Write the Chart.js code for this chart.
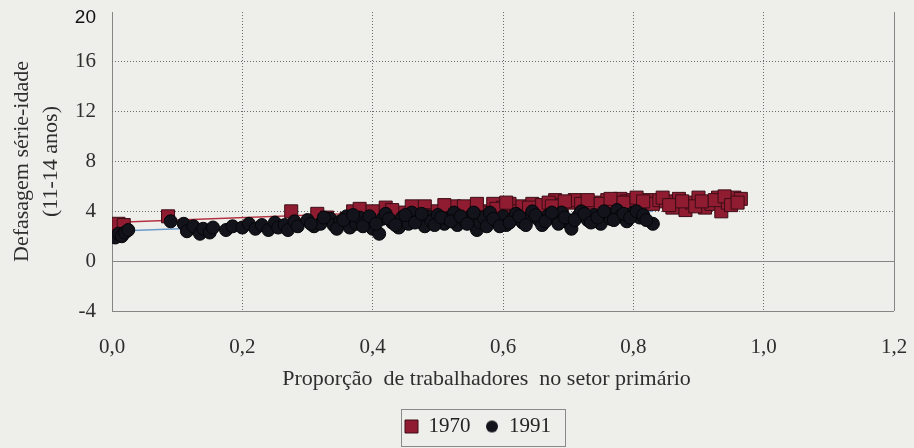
<!DOCTYPE html>
<html>
<head>
<meta charset="utf-8">
<script src="https://cdn.jsdelivr.net/npm/chart.js@4.4.1/dist/chart.umd.min.js"></script>
<style>
  html, body { margin: 0; padding: 0; background: #eeeeeb; }
  canvas { display: block; }
</style>
</head>
<body>
<canvas id="chart" width="914" height="448"></canvas>
<script>
// Proporção de trabalhadores no setor primário (x) vs defasagem série-idade (y)
const x1970 = [0.010, 0.018, 0.086, 0.275, 0.315, 0.330, 0.360, 0.370, 0.390, 0.410,
               0.420, 0.440, 0.450, 0.470, 0.480, 0.490, 0.500, 0.520, 0.525, 0.530,
               0.550, 0.565, 0.570, 0.585, 0.600, 0.610, 0.620, 0.630, 0.645, 0.650,
               0.660, 0.680, 0.690, 0.700, 0.710, 0.720, 0.740, 0.760, 0.770, 0.780,
               0.790, 0.800, 0.810, 0.820, 0.830, 0.840, 0.850, 0.860, 0.870, 0.880,
               0.890, 0.900, 0.910, 0.920, 0.930, 0.935, 0.945, 0.955, 0.965,
               0.380, 0.400, 0.430, 0.460, 0.510, 0.540, 0.560, 0.590, 0.605, 0.640,
               0.670, 0.675, 0.695, 0.730, 0.750, 0.765, 0.785, 0.805, 0.815, 0.845,
               0.855, 0.875, 0.895, 0.905, 0.925, 0.940, 0.950, 0.960];
const y1970 = [3.0, 2.9, 3.6, 4.0, 3.8, 3.5, 3.4, 4.0, 3.7, 3.6,
               4.3, 3.9, 3.5, 4.2, 4.4, 3.7, 4.0, 4.1, 4.4, 3.8,
               4.2, 4.0, 3.9, 4.6, 4.3, 4.6, 4.0, 4.4, 4.6, 4.1,
               4.5, 4.9, 4.5, 4.7, 4.9, 4.6, 4.7, 4.9, 4.6, 5.0,
               4.8, 4.9, 4.5, 4.9, 4.6, 4.9, 4.8, 4.3, 5.0, 4.1,
               4.7, 5.1, 4.3, 4.6, 5.1, 4.0, 4.7, 5.1, 5.0,
               4.2, 4.0, 4.1, 4.4, 4.5, 4.4, 4.6, 4.2, 4.7, 4.3,
               4.7, 4.4, 4.8, 4.9, 4.6, 5.0, 4.7, 5.1, 4.8, 5.1,
               4.5, 4.8, 4.4, 4.8, 4.9, 5.2, 4.5, 4.7];

const x1991 = [0.005, 0.010, 0.015, 0.020, 0.025, 0.090, 0.110, 0.115, 0.125, 0.135,
               0.140, 0.150, 0.155, 0.175, 0.185, 0.200, 0.210, 0.220, 0.230, 0.240,
               0.250, 0.255, 0.265, 0.270, 0.280, 0.285, 0.300, 0.310, 0.320, 0.335,
               0.340, 0.350, 0.360, 0.365, 0.375, 0.380, 0.390, 0.400, 0.410, 0.415,
               0.420, 0.430, 0.440, 0.445, 0.455, 0.460, 0.470, 0.480, 0.485, 0.490,
               0.500, 0.510, 0.515, 0.525, 0.530, 0.540, 0.550, 0.560, 0.565, 0.570,
               0.575, 0.580, 0.590, 0.600, 0.605, 0.615, 0.620, 0.630, 0.640, 0.645,
               0.655, 0.660, 0.670, 0.680, 0.690, 0.700, 0.705, 0.715, 0.720, 0.730,
               0.740, 0.750, 0.760, 0.765, 0.775, 0.780, 0.790, 0.800, 0.810, 0.830,
               0.305, 0.325, 0.345, 0.355, 0.370, 0.385, 0.395, 0.405, 0.425, 0.435,
               0.450, 0.465, 0.475, 0.495, 0.505, 0.520, 0.535, 0.545, 0.555, 0.585,
               0.595, 0.610, 0.625, 0.635, 0.650, 0.665, 0.675, 0.685, 0.695, 0.710,
               0.725, 0.735, 0.745, 0.755, 0.770, 0.785, 0.795, 0.805, 0.815, 0.820];
const y1991 = [1.9, 2.2, 2.0, 2.3, 2.5, 3.2, 3.0, 2.4, 2.8, 2.2,
               2.6, 2.3, 2.7, 2.5, 2.8, 2.7, 3.0, 2.6, 2.9, 2.5,
               3.1, 2.7, 2.9, 2.5, 3.2, 2.8, 3.3, 2.8, 3.0, 3.4,
               2.9, 3.2, 3.6, 2.7, 3.0, 3.5, 3.2, 2.6, 2.2, 3.4,
               3.8, 3.1, 2.7, 3.5, 3.0, 3.9, 3.3, 2.8, 3.6, 3.2,
               3.7, 3.0, 3.4, 3.9, 2.9, 3.3, 3.6, 2.5, 3.1, 3.5,
               2.8, 3.9, 3.2, 3.6, 2.9, 3.4, 3.8, 3.1, 3.5, 4.0,
               3.3, 2.9, 3.7, 3.4, 3.9, 3.1, 2.6, 3.6, 4.0, 3.3,
               3.7, 3.0, 3.8, 3.4, 4.1, 3.6, 3.2, 3.9, 3.5, 3.0,
               3.0, 3.5, 2.6, 3.3, 3.7, 2.8, 3.6, 3.0, 3.4, 2.9,
               3.7, 3.1, 3.8, 2.9, 3.5, 3.2, 3.6, 3.0, 3.9, 3.4,
               2.8, 3.1, 3.6, 2.9, 3.7, 3.2, 3.9, 3.0, 3.5, 3.3,
               3.8, 3.1, 3.5, 4.0, 3.3, 3.8, 3.5, 4.0, 3.7, 3.3];

// Linear fit lines, one per year (end points)
const fit1970X = [0.0, 0.965];
const fit1970Y = [3.1, 5.0];
const fit1991X = [0.0, 0.83];
const fit1991Y = [2.4, 4.0];

const seriesLabels = ['1970', '1991'];
const xTickLabels = ['0,0', '0,2', '0,4', '0,6', '0,8', '1,0', '1,2'];
const yTickLabels = ['-4', '0', '4', '8', '12', '16', '20'];
// trailing spaces nudge the centred title slightly left
const xAxisTitle = 'Proporção  de trabalhadores  no setor primário      ';
const yAxisTitle = ['Defasagem série-idade', '(11-14 anos)'];

const pts = (xs, ys) => xs.map((x, i) => ({ x: x, y: ys[i] }));

const SERIF = '"Liberation Serif", "Times New Roman", serif';
const TEXT = '#2e2e2e';
const DOT = '#6c6c6c';
const FRAME = '#858585';
const RED = '#8f1c30';
const BLACK = '#13131c';

// small round marker for the 1991 legend entry
const legendDot = (() => {
  const cv = document.createElement('canvas');
  cv.width = 14; cv.height = 14;
  const g = cv.getContext('2d');
  g.fillStyle = BLACK;
  g.beginPath();
  g.arc(7, 7, 6, 0, Math.PI * 2);
  g.fill();
  return cv;
})();

// page background
const backdrop = {
  id: 'backdrop',
  beforeDraw(chart) {
    const c = chart.ctx;
    c.save();
    c.fillStyle = '#eeeeeb';
    c.fillRect(0, 0, chart.width, chart.height);
    c.restore();
  }
};

// legend sits a little right of centre
const legendShift = {
  id: 'legendShift',
  afterLayout(chart) {
    if (chart.legend) {
      chart.legend.left += 21;
      chart.legend.right += 21;
    }
  }
};

// thin frame around the legend items
const legendFrame = {
  id: 'legendFrame',
  afterDraw(chart) {
    const boxes = chart.legend && chart.legend.legendHitBoxes;
    if (!boxes || !boxes.length) return;
    const l = Math.min(...boxes.map(b => b.left)) - 4;
    const r = Math.max(...boxes.map(b => b.left + b.width)) + 14;
    const t = Math.min(...boxes.map(b => b.top)) - 7;
    const btm = Math.max(...boxes.map(b => b.top + b.height)) + 9;
    const c = chart.ctx;
    c.save();
    c.strokeStyle = '#8a8a8a';
    c.lineWidth = 1;
    c.strokeRect(Math.round(l) + 0.5, Math.round(t) + 0.5, Math.round(r - l), Math.round(btm - t));
    c.restore();
  }
};

new Chart(document.getElementById('chart'), {
  type: 'scatter',
  data: {
    datasets: [
      {
        label: seriesLabels[0],
        data: pts(x1970, y1970),
        pointStyle: 'rect',
        pointRadius: 9.2,
        backgroundColor: RED,
        borderColor: '#3c0d16',
        borderWidth: 1,
        order: 2
      },
      {
        label: seriesLabels[1],
        data: pts(x1991, y1991),
        pointStyle: 'circle',
        pointRadius: 6.5,
        backgroundColor: BLACK,
        borderColor: '#050508',
        borderWidth: 1,
        order: 1
      },
      {
        label: 'fit1970',
        data: pts(fit1970X, fit1970Y),
        showLine: true,
        pointRadius: 0,
        borderColor: '#b3303f',
        borderWidth: 1.5,
        order: 3
      },
      {
        label: 'fit1991',
        data: pts(fit1991X, fit1991Y),
        showLine: true,
        pointRadius: 0,
        borderColor: '#6a9bc9',
        borderWidth: 1.5,
        order: 3
      }
    ]
  },
  options: {
    responsive: false,
    animation: false,
    devicePixelRatio: 1,
    layout: { padding: { top: 0, right: 0, bottom: 1, left: 0 } },
    plugins: {
      tooltip: { enabled: false },
      legend: {
        position: 'bottom',
        reverse: true,
        labels: {
          usePointStyle: true,
          boxWidth: 13,
          boxHeight: 13,
          padding: 15,
          color: '#222',
          font: { family: SERIF, size: 21 },
          filter: item => seriesLabels.includes(item.text),
          generateLabels: chart => Chart.defaults.plugins.legend.labels.generateLabels(chart)
            .map(item => item.text === seriesLabels[1] ? Object.assign(item, { pointStyle: legendDot }) : item)
        }
      }
    },
    scales: {
      x: {
        type: 'linear',
        min: 0,
        max: 1.2,
        afterFit: s => {
          s.height = 90;
          s.paddingLeft = 0;
          s.paddingRight = 20;
        },
        ticks: {
          stepSize: 0.2,
          padding: 24,
          color: TEXT,
          font: { family: SERIF, size: 21 },
          maxRotation: 0,
          callback: (v, i) => xTickLabels[i]
        },
        grid: {
          drawTicks: false,
          color: ctx => (ctx.tick && (ctx.tick.value === 0 || ctx.tick.value > 1.19)) ? FRAME : DOT,
          lineWidth: 1
        },
        border: {
          display: false,
          dash: ctx => (ctx.tick && (ctx.tick.value === 0 || ctx.tick.value > 1.19)) ? [] : [1, 2]
        },
        title: {
          display: true,
          text: xAxisTitle,
          color: TEXT,
          font: { family: SERIF, size: 22 },
          padding: { top: 0, bottom: 9 }
        }
      },
      y: {
        type: 'linear',
        min: -4,
        max: 20,
        afterFit: s => {
          s.width = 112;
          s.paddingTop = 12;
          s.paddingBottom = 0;
        },
        ticks: {
          stepSize: 4,
          padding: 16,
          color: ctx => (ctx.tick && ctx.tick.value === 20) ? '#111' : TEXT,
          font: ctx => (ctx.tick && ctx.tick.value === 20)
            ? { family: '"Liberation Sans", Arial, sans-serif', size: 19, lineHeight: '12px' }
            : { family: SERIF, size: 21 },
          callback: (v, i) => (v === 20 ? ['', yTickLabels[i]] : yTickLabels[i])
        },
        grid: {
          drawTicks: false,
          color: ctx => {
            if (!ctx.tick) return DOT;
            if (ctx.tick.value === 20) return 'rgba(0,0,0,0)';
            if (ctx.tick.value === 0 || ctx.tick.value === -4) return FRAME;
            return DOT;
          },
          lineWidth: 1
        },
        border: {
          display: false,
          dash: ctx => (ctx.tick && (ctx.tick.value === 0 || ctx.tick.value === -4)) ? [] : [1, 2]
        },
        title: {
          display: true,
          text: yAxisTitle,
          color: TEXT,
          font: { family: SERIF, size: 22, lineHeight: 1.35 },
          padding: { top: 7, bottom: 0 }
        }
      }
    }
  },
  plugins: [backdrop, legendShift, legendFrame]
});
</script>
</body>
</html>
